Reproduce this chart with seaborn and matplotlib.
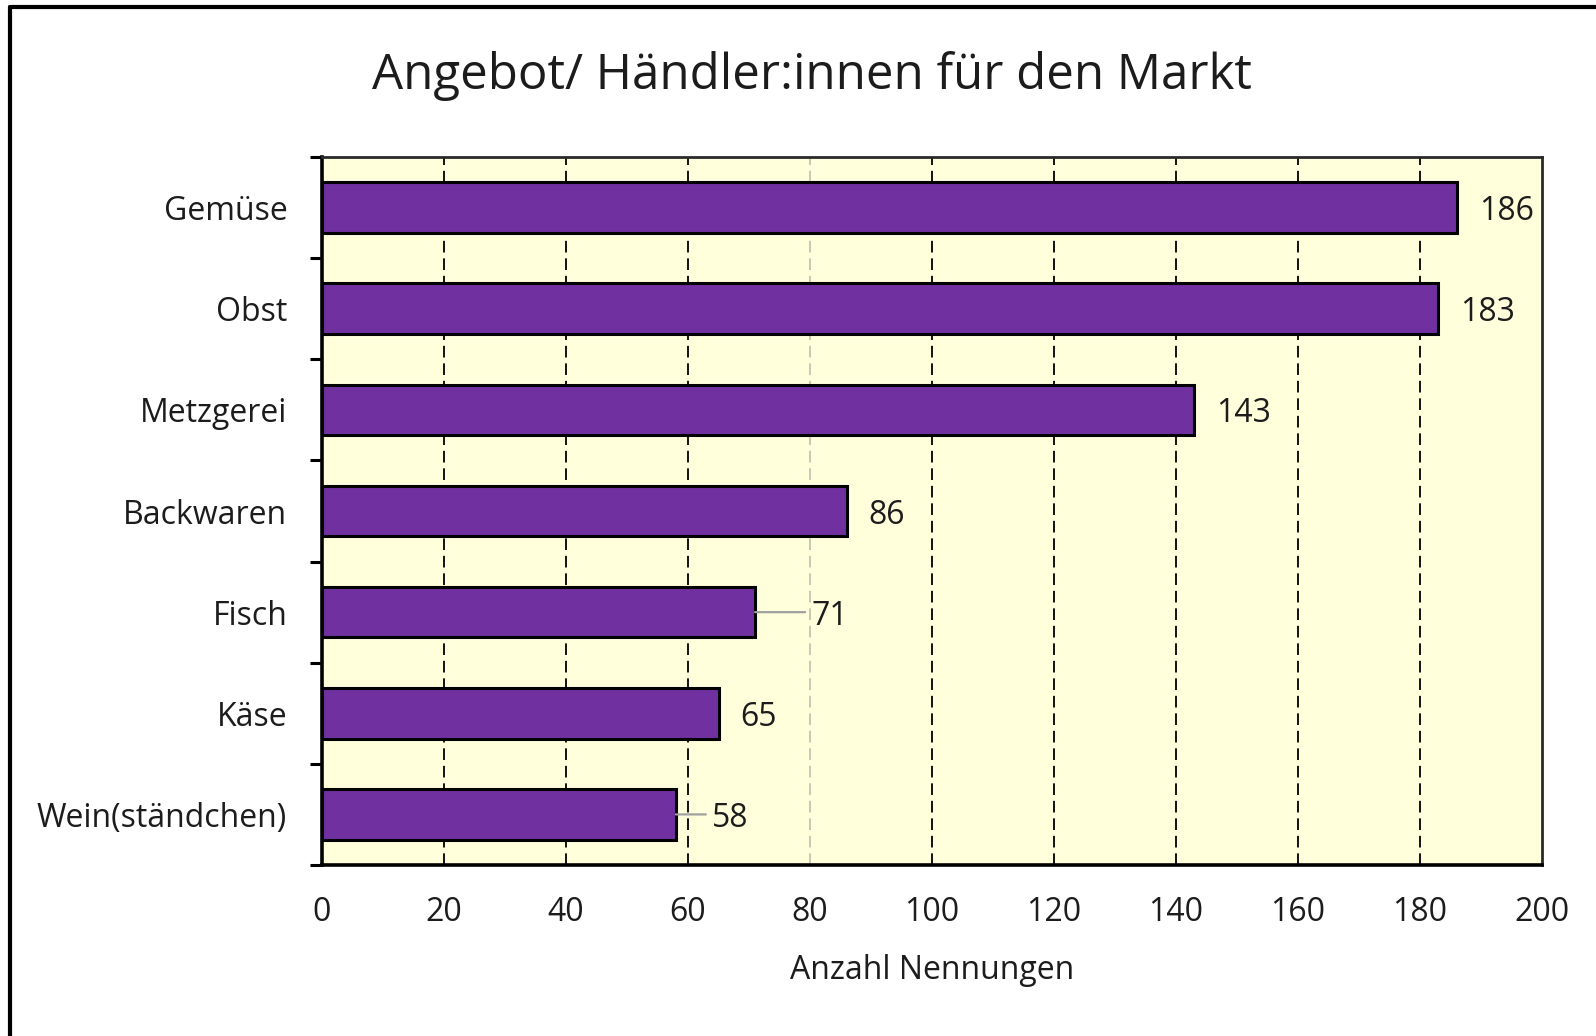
import matplotlib
matplotlib.use("Agg")
import matplotlib.pyplot as plt
from matplotlib.lines import Line2D
import numpy as np
import pandas as pd
import seaborn as sns

# Data
categories = ["Gemüse", "Obst", "Metzgerei", "Backwaren", "Fisch", "Käse", "Wein(ständchen)"]
counts = [186, 183, 143, 86, 71, 65, 58]
x_ticks = [0, 20, 40, 60, 80, 100, 120, 140, 160, 180, 200]
title_text = "Angebot/ Händler:innen für den Markt"
x_label_text = "Anzahl Nennungen"

sns.set_theme(style="white")
plt.rcParams["font.family"] = ["Open Sans", "DejaVu Sans"]

TEXT = "#1c1c1c"
BAR = "#7030A0"
PANEL = "#FFFFDC"
FS = 23

df = pd.DataFrame({"Kategorie": categories, "Anzahl": counts})

W, H = 1596, 1036
fig = plt.figure(figsize=(W / 100, H / 100), dpi=100)
fig.patch.set_facecolor("white")

ax = fig.add_axes([322 / W, 1 - 865 / H, 1220 / W, 708 / H])
ax.set_facecolor(PANEL)

sns.barplot(data=df, y="Kategorie", x="Anzahl", order=categories, color=BAR,
            saturation=1, width=0.5, edgecolor="black", linewidth=2.2,
            ax=ax, zorder=3)

ax.set_xlim(0, 200)
ax.set_ylim(6.5, -0.5)

# dashed vertical gridlines
for v in x_ticks[1:-1]:
    col = "#c8c8b4" if v == 80 else "#111111"
    ax.axvline(v, color=col, lw=1.4, ls=(0, (6, 3)), zorder=1)

# axes frame
for side in ["left", "bottom"]:
    ax.spines[side].set_color("black")
    ax.spines[side].set_linewidth(2.6)
for side in ["top", "right"]:
    ax.spines[side].set_color("#2a2a2a")
    ax.spines[side].set_linewidth(2.0)

ax.set_xticks(x_ticks)
ax.set_xticklabels([str(t) for t in x_ticks])
ax.tick_params(axis="x", length=0, pad=22, labelsize=FS, labelcolor=TEXT)
ax.tick_params(axis="y", which="major", length=0, pad=25, labelsize=FS, labelcolor=TEXT)
ax.set_yticks(np.arange(-0.5, len(categories), 1.0), minor=True)
ax.tick_params(axis="y", which="minor", length=9, width=2.2, color="black", direction="out", left=True)

ax.set_ylabel("")
ax.set_xlabel(x_label_text, fontsize=FS, color=TEXT, labelpad=18)

# value labels (offset in pixels from the bar end; some use a leader line)
label_offsets = {"Fisch": 56, "Wein(ständchen)": 36}
for i, (cat, v) in enumerate(zip(categories, counts)):
    off = label_offsets.get(cat, 22)
    if cat in label_offsets:
        ax.annotate("", xy=(v, i), xytext=(off - 6, 0), textcoords="offset pixels",
                    arrowprops=dict(arrowstyle="-", color="#a0a0a0", lw=1.6,
                                    shrinkA=0, shrinkB=0), zorder=4)
    ax.annotate(str(v), xy=(v, i), xytext=(off, 0), textcoords="offset pixels",
                ha="left", va="center_baseline", fontsize=FS, color=TEXT, zorder=5)

fig.text(812 / W, 1 - 76 / H, title_text, ha="center", va="center",
         fontsize=35.5, color=TEXT)

# outer chart frame (top and left edges)
fig.add_artist(Line2D([10 / W, 1.0], [1 - 7 / H, 1 - 7 / H], color="black", lw=3, transform=fig.transFigure))
fig.add_artist(Line2D([10 / W, 10 / W], [0.0, 1 - 7 / H], color="black", lw=3, transform=fig.transFigure))

fig.savefig("out.png", dpi=100)
